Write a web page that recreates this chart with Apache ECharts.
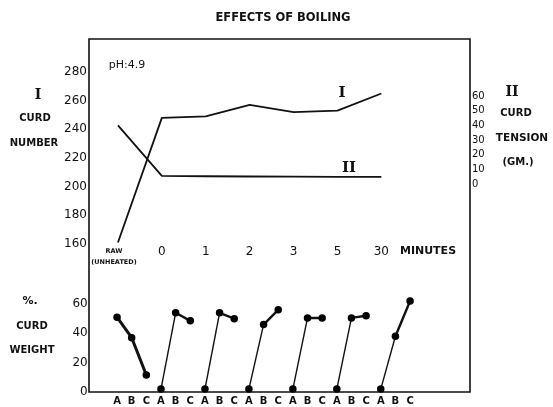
<!DOCTYPE html>
<html>
<head>
<meta charset="utf-8">
<script src="https://cdn.jsdelivr.net/npm/echarts@6/dist/echarts.min.js"></script>
<style>html,body{margin:0;padding:0;background:#fff}#c{width:553px;height:407px}</style>
</head>
<body>
<div id="c"></div>
<script>
// Categories (heating time)
const timeCats = ['RAW', '0', '1', '2', '3', '5', '30'];
// I: curd number (left axis)
const curdNumber = [161, 248, 249, 257, 252, 253, 265];
// II: curd tension, gm (right axis)
const curdTension = [40, 5.5, 5.3, 5.1, 5.0, 4.9, 4.8];
// % curd weight for fractions A, B, C at each time
const fractions = ['A', 'B', 'C'];
const weightA = [51, 2, 2, 2, 2, 2, 2];
const weightB = [37, 54, 54, 46, 50.5, 50.5, 38];
const weightC = [11.6, 48.5, 50, 56, 50.5, 52, 62];
// tick labels
const curdTicks = [160, 180, 200, 220, 240, 260, 280];
const tensionTicks = [0, 10, 20, 30, 40, 50, 60];
const weightTicks = [0, 20, 40, 60];

const INK = '#111';
const FONT = 'DejaVu Sans';

const subCats = [];
timeCats.forEach(() => fractions.forEach(f => subCats.push(f)));

const series = [
  { type: 'line', name: 'I', xAxisIndex: 0, yAxisIndex: 0, data: curdNumber,
    symbol: 'none', lineStyle: { color: INK, width: 1.8 }, z: 5 },
  { type: 'line', name: 'II', xAxisIndex: 1, yAxisIndex: 1, data: curdTension,
    symbol: 'none', lineStyle: { color: INK, width: 1.8 }, z: 5 }
];
const dots = [];
timeCats.forEach((t, g) => {
  const a = g * 3, b = a + 1, c = a + 2;
  series.push({ type: 'line', xAxisIndex: 2, yAxisIndex: 2, symbol: 'none',
    data: [[a, weightA[g]], [b, weightB[g]]],
    lineStyle: { color: INK, width: g === 0 ? 3 : 1.4 } });
  series.push({ type: 'line', xAxisIndex: 2, yAxisIndex: 2, symbol: 'none',
    data: [[b, weightB[g]], [c, weightC[g]]],
    lineStyle: { color: INK, width: g === 0 ? 3 : 2.4 } });
  dots.push([a, weightA[g]], [b, weightB[g]], [c, weightC[g]]);
});
series.push({ type: 'scatter', xAxisIndex: 2, yAxisIndex: 2, data: dots,
  symbol: 'circle', symbolSize: 7.5, itemStyle: { color: '#000', opacity: 1 }, z: 6 });

const txt = (x, y, text, opts) => Object.assign({
  type: 'text', x, y,
  style: Object.assign({ text, fill: INK, font: 'bold 10px "' + FONT + '"',
    align: 'center', verticalAlign: 'middle' }, (opts || {}))
});
const roman = (x, y, text, size) => txt(x, y, text, { font: 'bold ' + (size || 14) + 'px "DejaVu Serif"' });

const weightMax = 80; // axis headroom; labels shown only up to 60
const option = {
  animation: false,
  backgroundColor: '#fff',
  title: { text: 'EFFECTS OF BOILING', left: 278, top: 7, textAlign: 'center',
    textStyle: { fontFamily: FONT, fontSize: 11.5, fontWeight: 'bold', color: INK } },
  grid: [
    { left: 96, top: 72, width: 307.3, height: 172 },
    { left: 96, top: 96, width: 307.3, height: 88 },
    { left: 109.7, top: 392 - 88 * weightMax / 60, width: 307.7, height: 88 * weightMax / 60 },
    { left: 89, top: 39, width: 381, height: 353, show: true, borderColor: INK,
      borderWidth: 1.6, backgroundColor: 'transparent' }
  ],
  xAxis: [
    { type: 'category', gridIndex: 0, data: timeCats, boundaryGap: true,
      axisLine: { show: false }, axisTick: { show: false },
      axisLabel: { margin: 2, interval: 0, color: INK, fontFamily: FONT, fontSize: 12,
        formatter: v => v === 'RAW' ? '{s|RAW}\n{s|(UNHEATED)}' : v,
        rich: { s: { fontSize: 6.5, fontWeight: 'bold', fontFamily: FONT, color: INK, lineHeight: 11, padding: [0, 8, 0, 0] } } } },
    { type: 'category', gridIndex: 1, data: timeCats, boundaryGap: true, show: false },
    { type: 'category', gridIndex: 2, data: subCats, boundaryGap: true,
      axisLine: { show: false }, axisTick: { show: false },
      axisLabel: { margin: 4, interval: 0, color: INK, fontFamily: FONT, fontSize: 10, fontWeight: 'bold' } },
    { type: 'value', gridIndex: 3, show: false }
  ],
  yAxis: [
    { type: 'value', gridIndex: 0, min: curdTicks[0], max: curdTicks[curdTicks.length - 1], interval: 20,
      axisLine: { show: false }, axisTick: { show: false }, splitLine: { show: false },
      axisLabel: { margin: 9, color: INK, fontFamily: FONT, fontSize: 12 } },
    { type: 'value', gridIndex: 1, position: 'right', min: tensionTicks[0], max: tensionTicks[tensionTicks.length - 1], interval: 10,
      axisLine: { show: false }, axisTick: { show: false }, splitLine: { show: false },
      axisLabel: { margin: 68.7, color: INK, fontFamily: FONT, fontSize: 10 } },
    { type: 'value', gridIndex: 2, min: weightTicks[0], max: weightMax, interval: 20,
      axisLine: { show: false }, axisTick: { show: false }, splitLine: { show: false },
      axisLabel: { margin: 22, color: INK, fontFamily: FONT, fontSize: 12,
        formatter: v => weightTicks.indexOf(v) >= 0 ? String(v) : '' } },
    { type: 'value', gridIndex: 3, show: false }
  ],
  graphic: [
    txt(428, 251, 'MINUTES', { font: 'bold 11px "' + FONT + '"' }),
    txt(127, 65, 'pH:4.9', { font: '11px "' + FONT + '"' }),
    roman(38, 95, 'I'),
    txt(35, 118, 'CURD'),
    txt(34, 143, 'NUMBER'),
    roman(512, 92, 'II'),
    txt(516, 113, 'CURD'),
    txt(522, 138, 'TENSION', { font: 'bold 10.5px "' + FONT + '"' }),
    txt(518, 162, '(GM.)'),
    roman(342, 93, 'I', 15),
    roman(349, 168, 'II', 15),
    txt(30, 301, '%.', { font: 'bold 11px "' + FONT + '"' }),
    txt(32, 326, 'CURD'),
    txt(32, 350, 'WEIGHT')
  ],
  series
};
const chart = echarts.init(document.getElementById('c'), null, { renderer: 'canvas' });
chart.setOption(option);
</script>
</body>
</html>
